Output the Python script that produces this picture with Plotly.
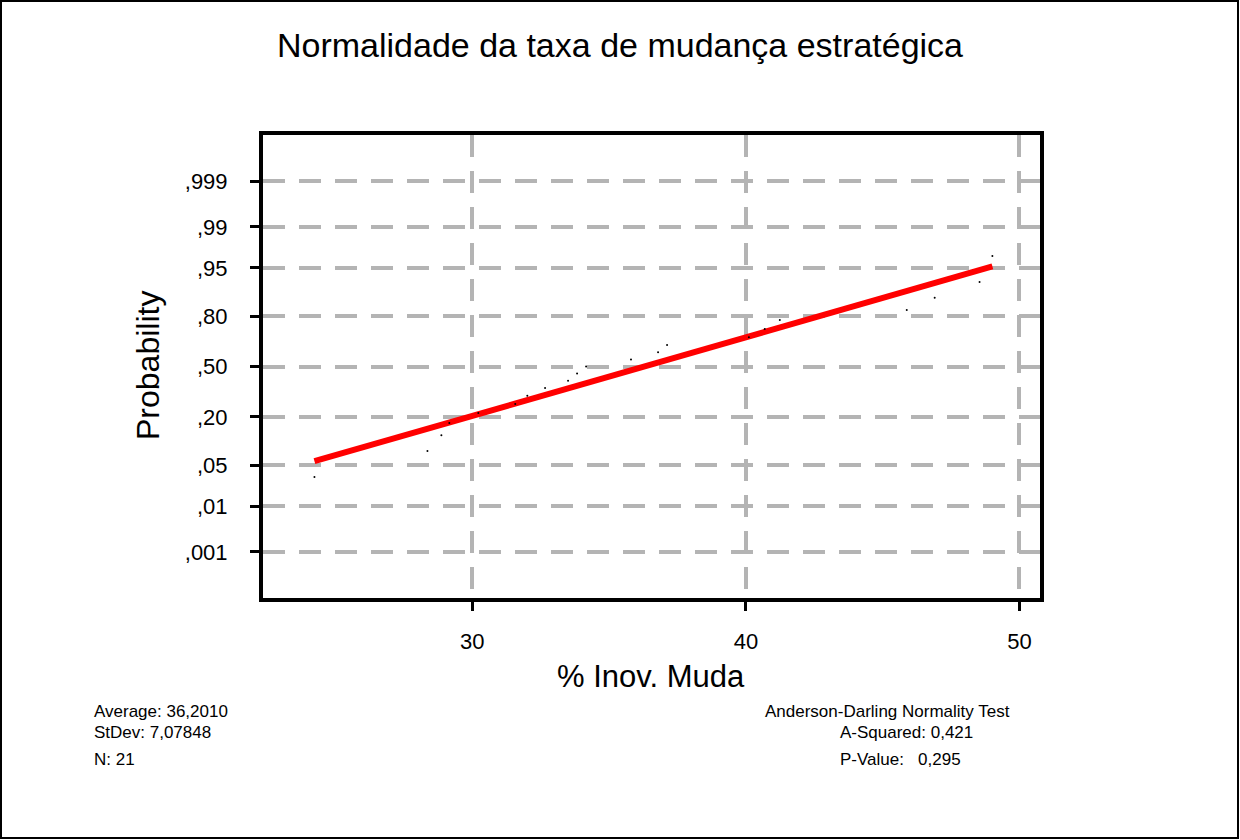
import plotly.graph_objects as go
from statistics import NormalDist

# ---- data ----
inov_muda = [24.23, 28.36, 28.87, 29.16, 30.22, 31.57, 32.01, 32.66, 33.50, 33.83,
             34.16, 35.80, 36.79, 37.12, 40.11, 40.69, 41.24, 45.88, 46.90, 48.54, 49.01]
prob_ticks = [0.001, 0.01, 0.05, 0.20, 0.50, 0.80, 0.95, 0.99, 0.999]
prob_labels = [",001", ",01", ",05", ",20", ",50", ",80", ",95", ",99", ",999"]
x_ticks = [30, 40, 50]
fit_mean = 36.28   # fitted line as drawn
fit_sd = 7.63

stats_left = ["Average: 36,2010", "StDev: 7,07848", "N: 21"]
stats_right = ["Anderson-Darling Normality Test", "A-Squared: 0,421",
               "P-Value:\u00a0\u00a0 0,295"]

nd = NormalDist()
n = len(inov_muda)
xs = sorted(inov_muda)
ranks_z = [nd.inv_cdf((i + 1 - 0.3) / (n + 0.4)) for i in range(n)]
tick_z = [nd.inv_cdf(p) for p in prob_ticks]

line_x = [min(xs), max(xs)]
line_z = [(v - fit_mean) / fit_sd for v in line_x]

FONT = "Liberation Sans, Arial, sans-serif"

fig = go.Figure()
fig.add_trace(go.Scatter(x=line_x, y=line_z, mode="lines",
                         line=dict(color="#ff0000", width=6), hoverinfo="skip",
                         showlegend=False))
fig.add_trace(go.Scatter(x=xs, y=ranks_z, mode="markers",
                         marker=dict(color="black", size=2), showlegend=False))

W, H = 1240, 840
L, R, T, B = 263, 1040, 135, 598
pw, ph = R - L, B - T


def px(x):
    return (x - L) / pw


def py(y):
    return (B - y) / ph


fig.update_layout(
    width=W, height=H,
    margin=dict(l=L, r=W - R, t=T, b=H - B),
    paper_bgcolor="white", plot_bgcolor="white",
    font=dict(family=FONT, color="black"),
    title=dict(text="Normalidade da taxa de mudança estratégica",
               x=0.5, xref="container", xanchor="center",
               y=1 - 45 / H, yanchor="middle",
               font=dict(size=34, family=FONT, color="black")),
    xaxis=dict(range=[22.35, 50.75], tickvals=x_ticks,
               showgrid=True, gridcolor="#b4b4b4", gridwidth=4, griddash="22px,14px",
               zeroline=False, showline=True, linecolor="black", linewidth=4,
               mirror=True, ticks="outside", ticklen=9, tickwidth=3, tickcolor="black",
               tickfont=dict(size=22, family=FONT), ticklabelstandoff=12),
    yaxis=dict(range=[-3.86, 3.86], tickvals=tick_z, ticktext=prob_labels,
               showgrid=True, gridcolor="#b4b4b4", gridwidth=4, griddash="22px,14px",
               zeroline=False, showline=True, linecolor="black", linewidth=4,
               mirror=True, ticks="outside", ticklen=9, tickwidth=3, tickcolor="black",
               tickfont=dict(size=22, family=FONT), ticklabelstandoff=18),
)

ann = []
ann.append(dict(text="Probability", x=px(148), y=py(366), xref="paper", yref="paper",
                textangle=-90, showarrow=False, xanchor="center", yanchor="middle",
                font=dict(size=32, family=FONT)))
ann.append(dict(text="% Inov. Muda", x=px(651), y=py(676), xref="paper", yref="paper",
                showarrow=False, xanchor="center", yanchor="middle",
                font=dict(size=31, family=FONT)))
for txt, yy in zip(stats_left, [711, 732, 759]):
    ann.append(dict(text=txt, x=px(92), y=py(yy), xref="paper", yref="paper",
                    showarrow=False, xanchor="left", yanchor="middle",
                    font=dict(size=17, family=FONT)))
for txt, xx, yy in zip(stats_right, [763, 838, 838], [711, 732, 759]):
    ann.append(dict(text=txt, x=px(xx), y=py(yy), xref="paper", yref="paper",
                    showarrow=False, xanchor="left", yanchor="middle",
                    font=dict(size=17, family=FONT)))
fig.update_layout(annotations=ann)

fig.add_shape(type="rect", xref="paper", yref="paper",
              x0=px(1), x1=px(1238), y0=py(838), y1=py(1),
              line=dict(color="black", width=2), fillcolor="rgba(0,0,0,0)")

fig.write_html("out.html", config={"displayModeBar": False},
               post_script="document.body.style.margin='0';document.body.style.overflow='hidden';")
